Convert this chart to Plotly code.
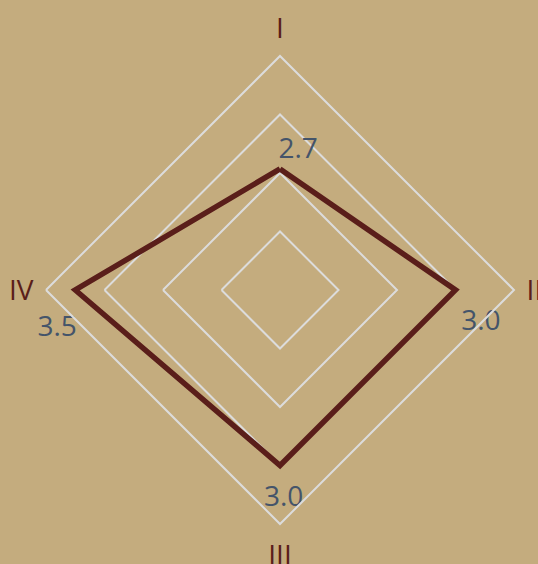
import plotly.graph_objects as go

categories = ["I", "II", "III", "IV"]
values = [2.07, 3.0, 3.0, 3.5]
value_labels = ["2.7", "3.0", "3.0", "3.5"]

NB = "\u00a0"
# per-label placement tweaks (padding shifts text sideways, invisible marker size pushes it away)
label_text = [NB * 5 + value_labels[0], NB * 7 + value_labels[1],
              NB * 1 + value_labels[2], value_labels[3] + NB * 5]
label_positions = ["top center", "bottom center", "bottom center", "bottom center"]
label_pad = [5, 29, 30, 38]

bg = "#c4ac7e"
grid = "#dcdcdc"
line_col = "#5a1e1a"

fig = go.Figure()
fig.add_trace(go.Scatterpolar(
    r=values + [values[0]],
    theta=categories + [categories[0]],
    mode="lines",
    line=dict(color=line_col, width=5.5),
    hoverinfo="skip",
    showlegend=False,
))
fig.add_trace(go.Scatterpolar(
    r=values,
    theta=categories,
    mode="markers+text",
    marker=dict(size=label_pad, color="rgba(0,0,0,0)",
                line=dict(width=0, color="rgba(0,0,0,0)")),
    text=label_text,
    textposition=label_positions,
    textfont=dict(color="#44546a", size=28, family="Open Sans"),
    hoverinfo="skip",
    showlegend=False,
))

fig.update_layout(
    width=538, height=564,
    paper_bgcolor=bg,
    plot_bgcolor=bg,
    margin=dict(l=46, r=24, t=56, b=40),
    font=dict(family="Open Sans"),
    polar=dict(
        bgcolor=bg,
        gridshape="linear",
        radialaxis=dict(range=[0, 4], dtick=1, showticklabels=False, ticks="",
                        showline=False, gridcolor=grid, gridwidth=2),
        angularaxis=dict(rotation=90, direction="clockwise", showgrid=False,
                         showline=True, linecolor=grid, linewidth=2,
                         ticks="outside", ticklen=6, tickcolor="rgba(0,0,0,0)",
                         tickfont=dict(color=line_col, size=28, family="Open Sans")),
    ),
)

fig.write_html("out.html", config={"displayModeBar": False},
               post_script="document.body.style.margin='0';document.body.style.background='%s';" % bg)
